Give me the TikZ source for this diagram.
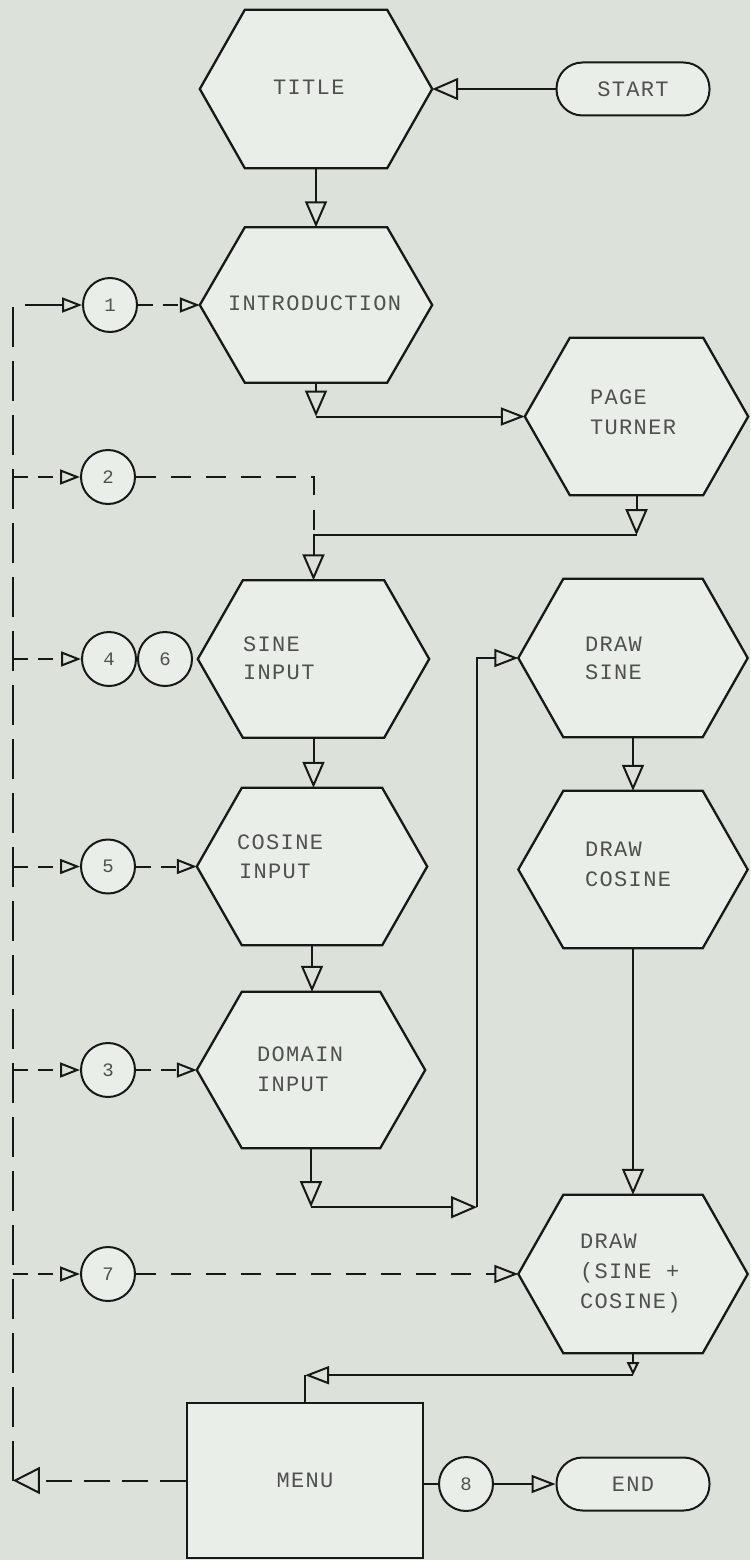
\documentclass[tikz,border=0pt]{standalone}
\usepackage{fontspec}
\newfontfamily\tw[LetterSpace=6]{Liberation Mono}
\usetikzlibrary{arrows.meta,backgrounds}
\definecolor{paper}{RGB}{220,226,218}
\definecolor{boxfill}{RGB}{234,238,232}
\definecolor{ink}{RGB}{24,24,24}
\definecolor{txt}{RGB}{80,80,80}
\tikzset{
  hexanchor/.style={draw=none, inner sep=0pt, rectangle},
  hexline/.style={draw=ink, fill=boxfill, line width=2.3pt, line join=miter},
  lbl/.style={inner sep=0pt, anchor=base west, font=\tw\fontsize{22pt}{26pt}\selectfont, text=txt},
  num/.style={circle, draw=ink, fill=boxfill, line width=2pt, minimum size=54pt, inner sep=0pt, font=\tw\fontsize{19pt}{22pt}\selectfont, text=txt},
  term/.style={rectangle, rounded corners=26pt, draw=ink, fill=boxfill, line width=2pt, minimum width=153pt, minimum height=53pt, inner sep=0pt, font=\tw\fontsize{22pt}{26pt}\selectfont, text=txt},
  menubox/.style={rectangle, draw=ink, fill=boxfill, line width=2.3pt, minimum width=236pt, minimum height=155pt, inner sep=0pt, font=\tw\fontsize{22pt}{26pt}\selectfont, text=txt},
  conn/.style={draw=ink, line width=2pt},
  arrbig/.style={-{Triangle[open,length=26pt,width=22pt]}},
  arrmid/.style={-{Triangle[open,length=24pt,width=18pt]}},
  arrsmall/.style={-{Triangle[open,length=20pt,width=15pt]}},
  arrtiny/.style={-{Triangle[open,length=13pt,width=12pt]}},
  arrcorner/.style={-{Triangle[open,length=27pt,width=27pt]}},
  busdash/.style={dash pattern=on 40pt off 14pt},
  shortdash/.style={dash pattern=on 15pt off 10pt},
  longdash/.style={dash pattern=on 20pt off 15pt},
  menudash/.style={dash pattern=on 26pt off 12pt},
}
\newcommand\hexnode[5]{%
  \node[hexanchor, minimum width=#4pt, minimum height=#5pt] (#1) at (#2,#3) {};
  \begin{pgfonlayer}{background}
    \filldraw[hexline] ([xshift=45pt]#1.north west) -- ([xshift=-45pt]#1.north east) -- (#1.east)
      -- ([xshift=-45pt]#1.south east) -- ([xshift=45pt]#1.south west) -- (#1.west) -- cycle;
  \end{pgfonlayer}}
\begin{document}
\begin{tikzpicture}[x=1pt,y=-1pt]
\useasboundingbox (0,0) rectangle (750,1560);
\begin{pgfonlayer}{background}
  \fill[paper] (0,0) rectangle (750,1560);
\end{pgfonlayer}

% hexagons
\hexnode{title}{316}{89}{232}{158}
\hexnode{intro}{316}{305}{232}{155}
\hexnode{page}{636.5}{416.5}{223}{157}
\hexnode{sine}{313.5}{659}{231}{157}
\hexnode{cosine}{312}{866.5}{230}{157}
\hexnode{domain}{311}{1070}{228}{156}
\hexnode{dsine}{633}{658}{229}{158}
\hexnode{dcos}{633}{869.5}{229}{157}
\hexnode{dsc}{633}{1274}{229}{158}

% labels
\node[lbl] (t-title) at (273,95) {TITLE};
\node[lbl] (t-intro) at (228,310) {INTRODUCTION};
\node[lbl] (t-page1) at (590,404) {PAGE};
\node[lbl] (t-page2) at (590,434) {TURNER};
\node[lbl] (t-sine1) at (243,651) {SINE};
\node[lbl] (t-sine2) at (243,679) {INPUT};
\node[lbl] (t-dsine1) at (585,651) {DRAW};
\node[lbl] (t-dsine2) at (585,679) {SINE};
\node[lbl] (t-cos1) at (237,849) {COSINE};
\node[lbl] (t-cos2) at (239,878) {INPUT};
\node[lbl] (t-dcos1) at (585,856) {DRAW};
\node[lbl] (t-dcos2) at (585,886) {COSINE};
\node[lbl] (t-dom1) at (257,1061) {DOMAIN};
\node[lbl] (t-dom2) at (257,1091) {INPUT};
\node[lbl] (t-dsc1) at (580,1248) {DRAW};
\node[lbl] (t-dsc2) at (580,1278) {(SINE +};
\node[lbl] (t-dsc3) at (580,1308) {COSINE)};

% terminals and menu
\node[term] (start) at (633,89) {START};
\node[term] (end) at (633,1484) {END};
\node[menubox] (menu) at (305,1480.5) {MENU};

% numbered circles
\node[num] (n1) at (110,305) {1};
\node[num] (n2) at (108,477) {2};
\node[num] (n4) at (109,659) {4};
\node[num] (n6) at (165,659) {6};
\node[num] (n5) at (108,866.5) {5};
\node[num] (n3) at (108,1070) {3};
\node[num] (n7) at (108,1274) {7};
\node[num] (n8) at (466,1484) {8};

% main flow
\draw[conn, arrbig] (start.west) -- (title.east);
\draw[conn, arrbig] (title.south) -- (title.south |- intro.north);
\coordinate (k1) at (intro.south |- page.west);
\draw[conn, arrbig] (intro.south) -- (k1);
\draw[conn, arrmid] (k1) -- (page.west);
\coordinate (k2) at ([yshift=-40pt]page.south);
\coordinate (k3) at (sine.north |- k2);
\draw[conn, arrbig] (page.south) -- (k2);
\draw[conn, arrbig] (k2) -- (k3) -- (sine.north);
\draw[conn, arrbig] (sine.south) -- (sine.south |- cosine.north);
\draw[conn, arrbig] (cosine.south) -- (cosine.south |- domain.north);
\coordinate (k4) at ([yshift=-59pt]domain.south);
\coordinate (k5) at ([xshift=166pt]k4);
\coordinate (k6) at (k5 |- dsine.west);
\draw[conn, arrbig] (domain.south) -- (k4);
\draw[conn, arrbig] (k4) -- (k5);
\draw[conn, arrmid] (k5) -- (k6) -- (dsine.west);
\draw[conn, arrbig] (dsine.south) -- (dcos.north);
\draw[conn, arrbig] (dcos.south) -- (dsc.north);
\coordinate (k7) at ([yshift=-22pt]dsc.south);
\coordinate (k8) at (menu.north |- k7);
\draw[conn, arrtiny] (dsc.south) -- (k7);
\draw[conn, arrmid] (k7) -- (k8);
\draw[conn] (k8) -- (menu.north);
\draw[conn] (n8.west -| menu.east) -- (n8.west);
\draw[conn, arrmid] (n8.east) -- (end.west);

% return bus
\path (menu.west) ++(-173pt,0) coordinate (bbot);
\coordinate (btop) at (bbot |- n1.west);
\draw[conn, menudash, arrcorner] (menu.west) -- (bbot);
\draw[conn, busdash, arrsmall] (bbot) -- (btop) -- (n1.west);
\draw[conn, shortdash, arrsmall] (n2.west -| bbot) -- (n2.west);
\draw[conn, shortdash, arrsmall] (n4.west -| bbot) -- (n4.west);
\draw[conn, shortdash, arrsmall] (n5.west -| bbot) -- (n5.west);
\draw[conn, shortdash, arrsmall] (n3.west -| bbot) -- (n3.west);
\draw[conn, shortdash, arrsmall] (n7.west -| bbot) -- (n7.west);

% circles to steps
\draw[conn, shortdash, arrsmall] (n1.east) -- (intro.west);
\draw[conn, shortdash, arrsmall] (n5.east) -- (cosine.west);
\draw[conn, shortdash, arrsmall] (n3.east) -- (domain.west);
\draw[conn, longdash] (n2.east) -| (k3);
\draw[conn, longdash, arrmid] (n7.east) -- (dsc.west);
\end{tikzpicture}
\end{document}
